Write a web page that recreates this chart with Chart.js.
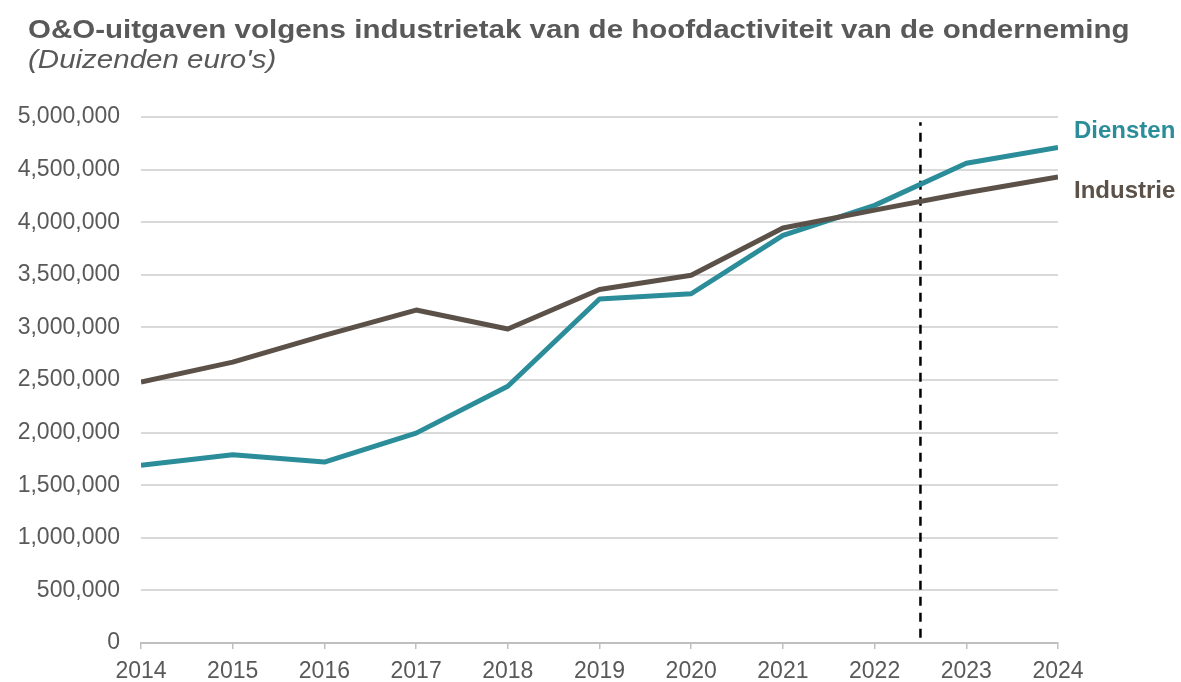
<!DOCTYPE html>
<html>
<head>
<meta charset="utf-8">
<script src="https://cdn.jsdelivr.net/npm/chart.js@4.4.1/dist/chart.umd.min.js"></script>
<style>
  html, body { margin: 0; padding: 0; background: #fff; }
  #wrap { position: relative; width: 1181px; height: 682px; }
  #title {
    position: absolute; left: 28px; top: 15px; white-space: nowrap;
    font: bold 25px "Liberation Sans", Arial, sans-serif; color: #595959;
    transform: scaleX(1.18); transform-origin: left top;
  }
  #subtitle {
    position: absolute; left: 28px; top: 45px; white-space: nowrap;
    font: italic 25px "Liberation Sans", Arial, sans-serif; color: #595959;
    transform: scaleX(1.18); transform-origin: left top;
  }
  canvas { position: absolute; left: 0; top: 0; }
</style>
</head>
<body>
<div id="wrap">
  <canvas id="chart" width="1181" height="682"></canvas>
  <div id="title">O&amp;O-uitgaven volgens industrietak van de hoofdactiviteit van de onderneming</div>
  <div id="subtitle">(Duizenden euro's)</div>
</div>
<script>
// years on the x axis
const years = [2014, 2015, 2016, 2017, 2018, 2019, 2020, 2021, 2022, 2023, 2024];

// R&D spending, thousands of euros
const diensten = [1690000, 1790000, 1720000, 1995000, 2440000, 3270000, 3320000, 3875000, 4160000, 4560000, 4710000];
const industrie = [2480000, 2670000, 2925000, 3165000, 2985000, 3360000, 3495000, 3945000, 4115000, 4280000, 4430000];

// dashed divider between realised and forecast years
const dividerYear = 2022.5;
const dividerRange = [50000, 4950000];

const yMax = 5000000;
const yStep = 500000;

const TEAL = '#2b8d99';
const BROWN = '#5b5148';
const GREY_TEXT = '#595959';

const toPoints = (vals) => vals.map((v, i) => ({ x: years[i], y: v }));

// series name written next to the last point
const endLabels = {
  id: 'endLabels',
  afterDatasetsDraw(chart) {
    const ctx = chart.ctx;
    chart.data.datasets.forEach((ds, i) => {
      if (!ds.endLabel) return;
      const meta = chart.getDatasetMeta(i);
      const last = meta.data[meta.data.length - 1];
      ctx.save();
      ctx.font = 'bold 24px "Liberation Sans", Arial, sans-serif';
      ctx.fillStyle = ds.borderColor;
      ctx.textBaseline = 'middle';
      ctx.textAlign = 'left';
      ctx.fillText(ds.label, last.x + 16, last.y + ds.endLabel.dy);
      ctx.restore();
    });
  }
};

new Chart(document.getElementById('chart'), {
  type: 'line',
  data: {
    datasets: [
      {
        label: 'Industrie',
        data: toPoints(industrie),
        borderColor: BROWN,
        borderWidth: 5,
        pointRadius: 0,
        tension: 0,
        borderJoinStyle: 'round',
        endLabel: { dy: 14 },
      },
      {
        label: 'Diensten',
        data: toPoints(diensten),
        borderColor: TEAL,
        borderWidth: 5,
        pointRadius: 0,
        tension: 0,
        borderJoinStyle: 'round',
        endLabel: { dy: -16 },
      },
      {
        label: 'divider',
        data: dividerRange.map((v) => ({ x: dividerYear, y: v })),
        borderColor: '#000',
        borderWidth: 2.5,
        borderDash: [9, 7],
        pointRadius: 0,
      },
    ],
  },
  options: {
    responsive: false,
    animation: false,
    layout: { padding: { left: 15, right: 123, top: 117, bottom: 0 } },
    plugins: {
      legend: { display: false },
      tooltip: { enabled: false },
    },
    scales: {
      x: {
        type: 'linear',
        min: years[0],
        max: years[years.length - 1],
        afterFit: (scale) => { scale.height = 39; },
        ticks: {
          stepSize: 1,
          padding: 9,
          color: GREY_TEXT,
          font: { family: '"Liberation Sans", Arial, sans-serif', size: 23 },
          callback: (v) => String(v),
        },
        grid: { drawOnChartArea: false, drawTicks: true, tickLength: 6, color: '#bfbfbf', lineWidth: 1.5 },
        border: { color: '#bfbfbf', width: 2 },
      },
      y: {
        min: 0,
        max: yMax,
        afterFit: (scale) => { scale.width = 126; },
        ticks: {
          stepSize: yStep,
          padding: 21,
          color: GREY_TEXT,
          font: { family: '"Liberation Sans", Arial, sans-serif', size: 23 },
          callback: (v) => v.toLocaleString('en-US'),
        },
        grid: { drawTicks: false, color: '#d9d9d9', lineWidth: 2 },
        border: { display: false },
      },
    },
  },
  plugins: [endLabels],
});
</script>
</body>
</html>
